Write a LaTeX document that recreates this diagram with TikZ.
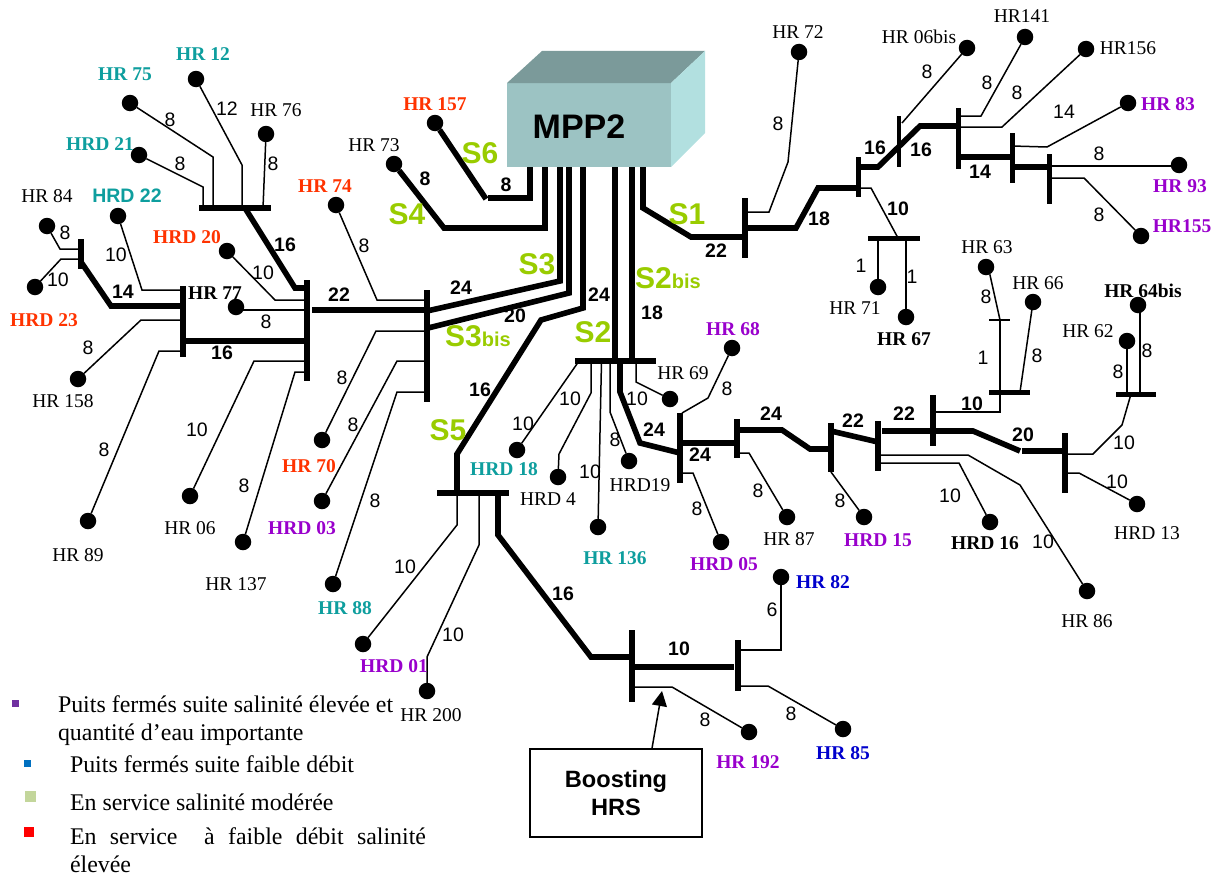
\documentclass[tikz,border=0pt]{standalone}
\usepackage{fontspec}
\setmainfont{Liberation Serif}
\setsansfont{Liberation Sans}
\usetikzlibrary{arrows.meta}
\definecolor{cteal}{HTML}{0E9E9E}
\definecolor{cred}{HTML}{FF3300}
\definecolor{cpurple}{HTML}{9900CC}
\definecolor{cblue}{HTML}{0000CC}
\definecolor{cgreen}{HTML}{99CC00}
\definecolor{boxfront}{HTML}{9CC3C3}
\definecolor{boxtop}{HTML}{7B9A9A}
\definecolor{boxside}{HTML}{B2E0E0}
\definecolor{legpurple}{HTML}{7030A0}
\definecolor{legblue}{HTML}{0070C0}
\definecolor{leggreen}{HTML}{C3D69B}
\newcounter{txtcnt}
\newcommand{\Tx}[4]{\stepcounter{txtcnt}\node[#1] (t\arabic{txtcnt}) at (#2,#3) {#4};}
\newcommand{\Wl}[3]{\node[well] (#1) at (#2,#3) {};}
\newcommand{\VB}[5]{\node[bus,minimum width=#5,minimum height={#4-#3}] (#1) at (#2,{(#3+#4)/2}) {};}
\newcommand{\HB}[5]{\node[bus,minimum height=#5,minimum width={#4-#3}] (#1) at ({(#3+#4)/2},#2) {};}
\tikzset{
 well/.style={circle,fill=black,inner sep=0pt,outer sep=0pt,minimum size=16.5},
 bus/.style={rectangle,fill=black,inner sep=0pt,outer sep=0pt},
 link/.style={line width=1.5pt,draw=black},
 trunk/.style={line width=5.6pt,draw=black},
 base/.style={inner sep=0pt,outer sep=0pt},
 num/.style={base,font=\sffamily\fontsize{19.5}{20}\selectfont},
 bnum/.style={base,font=\sffamily\bfseries\fontsize{19.5}{20}\selectfont},
 hr/.style={base,font=\fontsize{19.5}{20}\selectfont},
 hrb/.style={base,font=\bfseries\fontsize{19.5}{20}\selectfont},
 bigs/.style={base,text=cgreen,font=\sffamily\bfseries\fontsize{30}{30}\selectfont},
 legend/.style={base,anchor=base west,font=\fontsize{23.9}{26}\selectfont},
}
\begin{document}
\begin{tikzpicture}[x=1pt,y=-1pt]
\useasboundingbox (0,0) rectangle (1228,875);
% MPP2 box
\node[base,fill=boxfront,minimum width=164,minimum height=84] (mpp) at (589,125) {};
\fill[boxtop] (507,83) -- (542,51) -- (705,51) -- (671,83) -- cycle;
\fill[boxside] (671,83) -- (705,51) -- (705,133) -- (671,167) -- cycle;
\Tx{base,font=\sffamily\bfseries\fontsize{34}{34}\selectfont}{579}{127}{MPP2}
% wells
\Wl{w12}{196}{79}\Wl{w75}{130}{103}\Wl{w76}{266}{134}\Wl{wd21}{139}{155}
\Wl{w84}{47}{226}\Wl{wd23}{35}{287}\Wl{wd22}{118}{216}\Wl{w158}{78}{379}
\Wl{w89}{88}{521}\Wl{wd20}{227}{251}\Wl{w77}{236}{307}\Wl{w06}{190}{496}
\Wl{w137}{243}{542}\Wl{w74}{336}{205}\Wl{w70}{322}{440}\Wl{wd03}{322}{501}
\Wl{w88}{333}{584}\Wl{w157}{435}{123}\Wl{w73}{394}{164}\Wl{wd01}{363}{644}
\Wl{w200}{427}{691}\Wl{w82}{781}{577}\Wl{w85}{843}{729}\Wl{w192}{749}{732}
\Wl{wd18}{517}{450}\Wl{wd4}{558}{477}\Wl{w136}{598}{527}\Wl{wd19}{629}{461}
\Wl{w69}{670}{399}\Wl{w68}{732}{348}\Wl{wd05}{721}{542}\Wl{w87}{787}{517}
\Wl{wd15}{864}{517}\Wl{wd16}{990}{522}\Wl{w86}{1087}{591}\Wl{wd13}{1137}{504}
\Wl{w63}{986}{267}\Wl{w66}{1033}{302}\Wl{w62}{1127}{341}\Wl{w64}{1138}{305}
\Wl{w72}{799}{52}\Wl{w71}{878}{287}\Wl{w67}{906}{317}\Wl{w06b}{967}{48}
\Wl{w141}{1025}{37}\Wl{w156}{1086}{49}\Wl{w83}{1128}{103}\Wl{w93}{1179}{165}
\Wl{w155}{1141}{236}
% bus bars
\HB{bA}{208}{199}{271}{6}
\VB{bC}{307}{280}{381}{6}
\VB{bD}{183}{286}{357}{6}
\VB{bE}{81}{239}{269}{6}
\VB{bF}{427}{290}{402}{6}
\HB{bG}{493}{437}{509}{6}
\VB{bH}{632}{630}{702}{6}
\VB{bI}{738}{640}{691}{6}
\HB{bJ}{361}{575}{656}{6}
\VB{bK}{680}{413}{483}{5.5}
\VB{bL}{737}{419}{458}{5.5}
\VB{bM}{831}{423}{472}{6}
\VB{bN}{878}{421}{471}{6}
\VB{bO}{933}{395}{446}{6}
\VB{bP}{1065}{433}{493}{6}
\HB{bQ}{392}{989}{1030}{5}
\HB{bR}{320}{989}{1010}{1.5}
\HB{bS}{394}{1116}{1156}{5}
\VB{bT}{745}{198}{258}{5.5}
\VB{bU}{858}{157}{197}{5}
\HB{bV}{238}{868}{920}{5}
\VB{bW}{899}{116}{167}{4.5}
\VB{bX}{958}{108}{169}{5}
\VB{bY}{1012}{133}{183}{5}
\VB{bZ}{1049}{154}{204}{5}
% thin branches
\draw[link] (w75) -- (213,157) -- (213,157 |- bA);
\draw[link] (w12) -- (242,165) -- (242,165 |- bA);
\draw[link] (w76) -- (263,0 |- bA);
\draw[link] (wd21) -- (203,187) -- (203,187 |- bA);
\draw[link] (w84) -- (60,249) -- (bE |- 0,249);
\draw[link] (wd23) -- (61,259) -- (bE |- 0,259);
\draw[link] (wd22) -- (142,290) -- (bD |- 0,290);
\draw[link] (w158) -- (141,320) -- (bD |- 0,320);
\draw[link] (w89) -- (159,351) -- (bD |- 0,351);
\draw[link] (wd20) -- (275,300) -- (bC |- 0,300);
\draw[link] (w77 |- 0,310) -- (bC |- 0,310);
\draw[link] (w06) -- (254,361) -- (bC |- 0,361);
\draw[link] (w137) -- (295,372) -- (bC |- 0,372);
\draw[link] (w74) -- (377,300) -- (bF |- 0,300);
\draw[link] (w70) -- (376,331) -- (bF |- 0,331);
\draw[link] (wd03) -- (397,361) -- (bF |- 0,361);
\draw[link] (w88) -- (397,392) -- (bF |- 0,392);
\draw[link] (wd01) -- (457,525) -- (457,0 |- bG);
\draw[link] (w200) -- (427,657) -- (479,545) -- (479,0 |- bG);
\draw[link] (w82) -- (781,650) -- (bI |- 0,650);
\draw[link] (w85) -- (768,686) -- (bI |- 0,686);
\draw[link] (w192) -- (672,687) -- (bH |- 0,687);
\draw[link] (wd18) -- (579,0 |- bJ);
\draw[link] (wd4) -- (559,454) -- (591,393) -- (591,0 |- bJ);
\draw[link] (w136) -- (601.5,0 |- bJ);
\draw[link] (wd19) -- (610,412) -- (610,0 |- bJ);
\draw[link] (w69) -- (636,382) -- (636,0 |- bJ);
\draw[link] (w68) -- (708,398) -- (682,0 |- bK.north);
\draw[link] (wd05) -- (693,473) -- (bK |- 0,473);
\draw[link] (w87) -- (749,453) -- (bL |- 0,453);
\draw[link] (wd15) -- (bM.south);
\draw[link] (wd16) -- (959,463) -- (bN |- 0,463);
\draw[link] (w86) -- (1020,485) -- (968,455) -- (bN |- 0,455);
\draw[link] (wd13) -- (1079,473) -- (bP |- 0,473);
\draw[link] (bO |- 0,412) -- (1000,412) -- (1000,0 |- bQ);
\draw[link] (1000,0 |- bQ) -- (1000,0 |- bR);
\draw[link] (w63) -- (990,275) -- (1000,0 |- bR);
\draw[link] (w66) -- (1020,0 |- bQ);
\draw[link] (w62) -- (1127,0 |- bS);
\draw[link] (1140,0 |- w64) -- (1140,0 |- bS);
\draw[link] (bP |- 0,454) -- (1093,454) -- (1122,425) -- (1131,0 |- bS);
\draw[link] (w72) -- (788,162) -- (769,212) -- (bT |- 0,212);
\draw[link] (bU |- 0,188) -- (871,188) -- (898,0 |- bV);
\draw[link] (w71) -- (878,0 |- bV);
\draw[link] (w67) -- (906,0 |- bV);
\draw[link] (w06b) -- (902,123);
\draw[link] (w141) -- (981,116) -- (bX |- 0,116);
\draw[link] (w156) -- (1002,127) -- (bX |- 0,127);
\draw[link] (w83) -- (1047,147) -- (bY |- 0,146);
\draw[link] (w93 |- 0,166) -- (bZ |- 0,166);
\draw[link] (w155) -- (1084,178) -- (bZ |- 0,178);
% trunks
\draw[trunk] (245,0 |- bA) -- (295,288) -- (bC |- 0,288);
\draw[trunk] (bE |- 0,262) -- (111,306) -- (bD |- 0,306);
\draw[trunk] (bD |- 0,341) -- (bC |- 0,341);
\draw[trunk] (312,310) -- (bF |- 0,310);
\draw[trunk] (bF |- 0,311) -- (560,281) -- (mpp.south -| 560,0);
\draw[trunk] (428,328) -- (569,293) -- (mpp.south -| 569,0);
\draw[trunk] (w157) -- (486,199);
\draw[trunk] (488,198) -- (530,198) -- (mpp.south -| 530,0);
\draw[trunk] (w73) -- (444,228) -- (545,228) -- (mpp.south -| 545,0);
\draw[trunk] (mpp.south -| 583,0) -- (583,308) -- (541,320) -- (457,454) -- (457,0 |- bG);
\draw[trunk] (498,0 |- bG) -- (498,535) -- (591,657) -- (bH |- 0,657);
\draw[trunk] (bH |- 0,667) -- (734,667);
\draw[trunk] (mpp.south -| 615,0) -- (615,0 |- bJ);
\draw[trunk] (mpp.south -| 632,0) -- (632,0 |- bJ);
\draw[trunk] (620,0 |- bJ) -- (620,392) -- (640,443) -- (bK |- 0,453);
\draw[trunk] (bK |- 0,443) -- (bL |- 0,443);
\draw[trunk] (bL |- 0,430) -- (782,430) -- (810,449) -- (bM |- 0,449);
\draw[trunk] (bM |- 0,431) -- (bN |- 0,442);
\draw[trunk] (882,431) -- (973,431) -- (1020,451);
\draw[trunk] (1022,451) -- (bP |- 0,451);
\draw[trunk] (mpp.south -| 643,0) -- (643,208) -- (691,237) -- (bT |- 0,237);
\draw[trunk] (bT |- 0,228) -- (796,228) -- (818,188) -- (bU |- 0,188);
\draw[trunk] (bU |- 0,167) -- (878,167) -- (920,126) -- (bX |- 0,126);
\draw[trunk] (bX |- 0,157) -- (bY |- 0,157);
\draw[trunk] (bY |- 0,167) -- (bZ |- 0,167);
% boosting
\node[draw=black,line width=1.5pt,minimum width=172,minimum height=88,inner sep=0pt,align=center,font=\sffamily\bfseries\fontsize{23.6}{28}\selectfont] (boost) at (616,793) {Boosting\\HRS};
\coordinate (tip) at (662,691);
\draw[line width=1.5pt,-{Triangle[length=15pt,width=15pt]}] (boost.north -| 652,0) -- (tip);
% S labels
\Tx{bigs}{480}{153}{S6}
\Tx{bigs}{407}{214}{S4}
\Tx{bigs}{537}{264}{S3}
\Tx{bigs}{478}{336}{S3{\fontsize{20}{20}\selectfont bis}}
\Tx{bigs}{687}{214}{S1}
\Tx{bigs}{668}{278}{S2{\fontsize{20}{20}\selectfont bis}}
\Tx{bigs}{593}{332}{S2}
\Tx{bigs}{448}{430}{S5}
% well names
\Tx{hrb,text=cteal}{203}{54}{HR 12}
\Tx{hrb,text=cteal}{125}{74}{HR 75}
\Tx{hr}{276}{110}{HR 76}
\Tx{hrb,text=cteal}{100}{144}{HRD 21}
\Tx{hr}{374}{145}{HR 73}
\Tx{hrb,text=cred}{435}{104}{HR 157}
\Tx{hr}{47}{196}{HR 84}
\Tx{bnum,text=cteal}{127}{196}{HRD 22}
\Tx{hrb,text=cred}{325}{186}{HR 74}
\Tx{hrb,text=cred}{187}{237}{HRD 20}
\Tx{hrb}{215}{293}{HR 77}
\Tx{hrb,text=cred}{44}{320}{HRD 23}
\Tx{hr}{63}{401}{HR 158}
\Tx{hr}{78}{555}{HR 89}
\Tx{hr}{190}{528}{HR 06}
\Tx{hr}{236}{584}{HR 137}
\Tx{hrb,text=cred}{309}{466}{HR 70}
\Tx{hrb,text=cpurple}{302}{528}{HRD 03}
\Tx{hrb,text=cteal}{345}{608}{HR 88}
\Tx{hrb,text=cpurple}{394}{666}{HRD 01}
\Tx{hr}{431}{715}{HR 200}
\Tx{hrb,text=cteal}{504}{469}{HRD 18}
\Tx{hr}{548}{499}{HRD 4}
\Tx{hr}{640}{485}{HRD19}
\Tx{hrb,text=cteal}{615}{558}{HR 136}
\Tx{hr}{683}{373}{HR 69}
\Tx{hrb,text=cpurple}{733}{329}{HR 68}
\Tx{hrb,text=cpurple}{724}{564}{HRD 05}
\Tx{hr}{789}{539}{HR 87}
\Tx{hrb,text=cpurple}{878}{540}{HRD 15}
\Tx{hrb}{985}{543}{HRD 16}
\Tx{hr}{1087}{621}{HR 86}
\Tx{hr}{1147}{533}{HRD 13}
\Tx{hr}{1088}{331}{HR 62}
\Tx{hrb}{1143}{291}{HR 64bis}
\Tx{hr}{1038}{283}{HR 66}
\Tx{hr}{987}{247}{HR 63}
\Tx{hr}{855}{308}{HR 71}
\Tx{hrb}{904}{339}{HR 67}
\Tx{hrb,text=cblue}{823}{582}{HR 82}
\Tx{hrb,text=cblue}{843}{753}{HR 85}
\Tx{hrb,text=cpurple}{748}{762}{HR 192}
\Tx{hr}{798}{32}{HR 72}
\Tx{hr}{919}{37}{HR 06bis}
\Tx{hr}{1022}{16}{HR141}
\Tx{hr}{1128}{48}{HR156}
\Tx{hrb,text=cpurple}{1168}{104}{HR 83}
\Tx{hrb,text=cpurple}{1180}{186}{HR 93}
\Tx{hrb,text=cpurple}{1182}{226}{HR155}
% thin-line numbers
\Tx{num}{170}{120}{8}\Tx{num}{227}{109}{12}\Tx{num}{273}{164}{8}\Tx{num}{180}{164}{8}
\Tx{num}{65}{233}{8}\Tx{num}{58}{280}{10}\Tx{num}{116}{255}{10}\Tx{num}{263}{273}{10}
\Tx{num}{88}{348}{8}\Tx{num}{364}{246}{8}\Tx{num}{266}{322}{8}\Tx{num}{197}{430}{10}
\Tx{num}{244}{486}{8}\Tx{num}{104}{450}{8}\Tx{num}{342}{378}{8}\Tx{num}{353}{425}{8}
\Tx{num}{375}{501}{8}\Tx{num}{405}{567}{10}\Tx{num}{453}{635}{10}\Tx{num}{523}{424}{10}
\Tx{num}{570}{399}{10}\Tx{num}{590}{472}{10}\Tx{num}{615}{440}{8}\Tx{num}{637}{399}{10}
\Tx{num}{727}{389}{8}\Tx{num}{697}{509}{8}\Tx{num}{758}{491}{8}\Tx{num}{772}{610}{6}
\Tx{num}{705}{720}{8}\Tx{num}{791}{714}{8}\Tx{num}{840}{501}{8}\Tx{num}{950}{496}{10}
\Tx{num}{1043}{542}{10}\Tx{num}{1124}{443}{10}\Tx{num}{1117}{482}{10}\Tx{num}{1037}{356}{8}
\Tx{num}{983}{358}{1}\Tx{num}{986}{297}{8}\Tx{num}{1118}{372}{8}\Tx{num}{1147}{351}{8}
\Tx{num}{861}{266}{1}\Tx{num}{912}{277}{1}\Tx{num}{778}{124}{8}\Tx{num}{927}{72}{8}
\Tx{num}{987}{83}{8}\Tx{num}{1017}{93}{8}\Tx{num}{1064}{112}{14}\Tx{num}{1099}{154}{8}
\Tx{num}{1099}{215}{8}
% trunk numbers
\Tx{bnum}{425}{179}{8}\Tx{bnum}{506}{185}{8}\Tx{bnum}{285}{245}{16}\Tx{bnum}{123}{292}{14}
\Tx{bnum}{222}{353}{16}\Tx{bnum}{339}{295}{22}\Tx{bnum}{461}{288}{24}\Tx{bnum}{515}{316}{20}
\Tx{bnum}{599}{295}{24}\Tx{bnum}{652}{313}{18}\Tx{bnum}{480}{390}{16}\Tx{bnum}{563}{594}{16}
\Tx{bnum}{679}{649}{10}\Tx{bnum}{716}{251}{22}\Tx{bnum}{819}{219}{18}\Tx{bnum}{898}{209}{10}
\Tx{bnum}{875}{148}{16}\Tx{bnum}{921}{150}{16}\Tx{bnum}{980}{172}{14}\Tx{bnum}{654}{430}{24}
\Tx{bnum}{700}{455}{24}\Tx{bnum}{771}{414}{24}\Tx{bnum}{853}{421}{22}\Tx{bnum}{904}{414}{22}
\Tx{bnum}{972}{404}{10}\Tx{bnum}{1023}{435}{20}
% legend
\fill[legpurple] (11.5,699.5) rectangle (18.5,706.5);
\fill[legblue] (23.5,759.5) rectangle (30.5,766.5);
\fill[leggreen] (24.5,791) rectangle (35.5,802);
\fill[red] (24,827) rectangle (33.5,837);
\Tx{legend}{58}{712}{Puits fermés suite salinité élevée et}
\Tx{legend}{58}{740}{quantité d’eau importante}
\Tx{legend}{70}{772}{Puits fermés suite faible débit}
\Tx{legend}{70}{810}{En service salinité modérée}
\Tx{legend}{70}{844}{\makebox[356pt][s]{En\hfil service\hfil\hfil à\hfil faible\hfil débit\hfil salinité}}
\Tx{legend}{70}{872}{élevée}
\end{tikzpicture}
\end{document}
